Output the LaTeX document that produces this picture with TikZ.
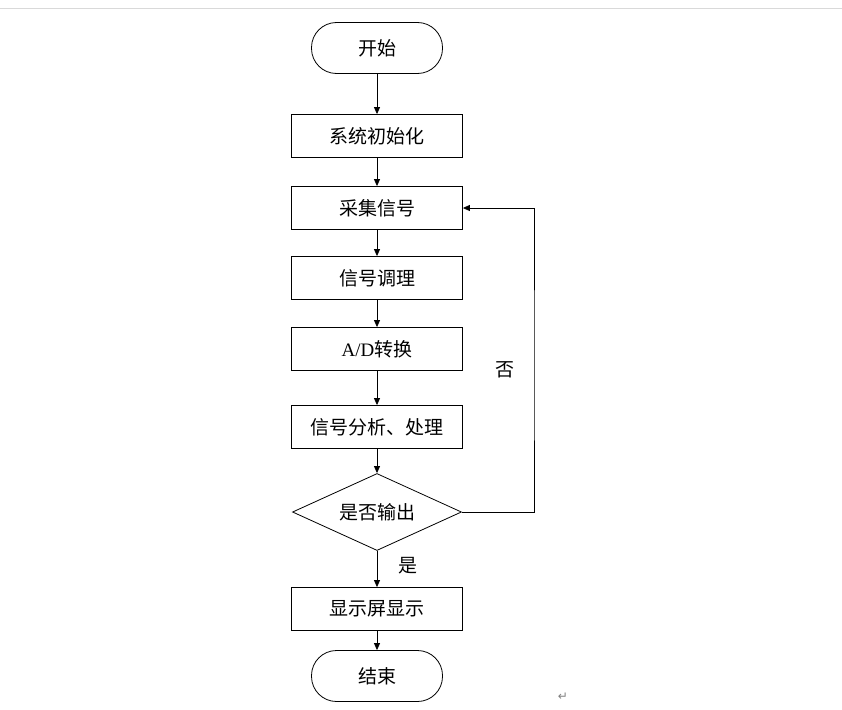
\documentclass[tikz,border=0pt]{standalone}
\usepackage{fontspec}
\setmainfont{Liberation Serif}
\newfontfamily\cjk{Noto Sans CJK SC}
\newfontfamily\symfont{DejaVu Sans}
\usetikzlibrary{shapes.geometric,arrows.meta,positioning}

\begin{document}
\begin{tikzpicture}[x=1pt,y=-1pt,font=\cjk\fontsize{19}{22}\selectfont,
  box/.style={draw,thick,minimum width=171pt,minimum height=43pt,inner sep=0pt},
  term/.style={draw,thick,rounded corners=25pt,minimum width=131pt,minimum height=51pt},
  dec/.style={draw,thick,diamond,aspect=2.2,minimum width=169pt,minimum height=77pt,inner sep=0pt},
  arr/.style={-{Triangle[length=7pt,width=6pt]},thick}]
  \useasboundingbox (0,0) rectangle (842,709);
  \draw[gray!30] (0,8) -- (842,8);
  % flow
  \node[term] (start) at (377,48) {开始};
  \node[box] (init) at (377,136) {系统初始化};
  \node[box] (acq) at (377,208) {采集信号};
  \node[box] (cond) at (377,278) {信号调理};
  \node[box] (adc) at (377,349) {{\rmfamily A/D}转换};
  \node[box] (proc) at (377,427) {信号分析、处理};
  \node[dec] (out) at (377,512) {是否输出};
  \node[box] (disp) at (377,609) {显示屏显示};
  \node[term] (stop) at (377,676) {结束};
  \draw[arr] (start) -- (init);
  \draw[arr] (init) -- (acq);
  \draw[arr] (acq) -- (cond);
  \draw[arr] (cond) -- (adc);
  \draw[arr] (adc) -- (proc);
  \draw[arr] (proc) -- (out);
  \draw[arr] (out) -- (disp) node[pos=0.4,right=18pt] {是};
  \draw[arr] (disp) -- (stop);
  % loop back
  \draw[arr] (out.east) -| (534,370) node[left=16pt] {否} |- (acq.east);
  \node[gray,font=\symfont\fontsize{12}{12}\selectfont] (ret) at (563,697) {↵};
\end{tikzpicture}
\end{document}
